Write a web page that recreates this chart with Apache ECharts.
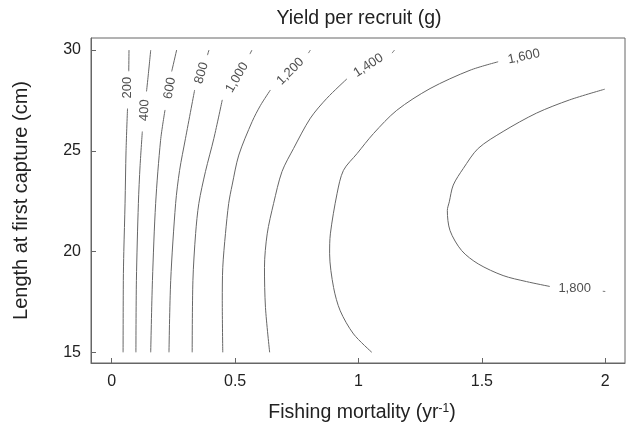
<!DOCTYPE html>
<html>
<head>
<meta charset="utf-8">
<script src="https://cdn.jsdelivr.net/npm/echarts@6/dist/echarts.min.js"></script>
<style>
  html, body { margin: 0; padding: 0; background: #fff; }
  #chart { width: 630px; height: 429px; }
</style>
</head>
<body>
<div id="chart"></div>
<script>
// isolines: [F, Lc], '-' = gap where the label sits
var c200 = [[0.070, 30], [0.069, 28.95], '-', [0.064, 27.1], [0.058, 25.0], [0.054, 22.4], [0.049, 20.0], [0.047, 18.56], [0.046, 15]];
var c400 = [[0.158, 30], [0.148, 28.76], [0.141, 27.95], '-', [0.124, 25.96], [0.115, 24.28], [0.108, 22.39], [0.100, 18.56], [0.098, 15]];
var c600 = [[0.263, 30], [0.243, 28.94], '-', [0.216, 27.03], [0.198, 25.52], [0.178, 22.39], [0.165, 18.56], [0.158, 15]];
var c800 = [[0.394, 30], [0.388, 29.75], '-', [0.336, 28.02], [0.299, 25.62], [0.275, 24.03], [0.259, 22.39], [0.239, 18.56], [0.232, 15]];
var c1000 = [[0.568, 30], [0.560, 29.80], '-', [0.448, 27.53], [0.414, 25.62], [0.380, 23.98], [0.353, 22.39], [0.340, 20.90], [0.329, 18.56], [0.326, 15]];
var c1200 = [[0.805, 30], [0.797, 29.85], '-', [0.643, 28.02], [0.603, 27.26], [0.569, 26.45], [0.515, 24.79], [0.488, 23.30], [0.474, 22.39], [0.461, 20.90], [0.450, 19.22], [0.448, 17.56], [0.450, 15]];
var c1400 = [[1.146, 30], [1.136, 29.85], '-', [0.953, 28.57], [0.872, 27.61], [0.805, 26.62], [0.737, 25.12], [0.690, 23.97], [0.656, 22.39], [0.630, 20.88], [0.619, 19.22], [0.623, 17.23], [0.640, 15]];
var c1600 = [[1.566, 29.42], [1.452, 29.00], [1.290, 28.09], [1.155, 27.01], [1.061, 25.86], [0.994, 24.86], [0.939, 24.03], [0.913, 22.87], [0.886, 20.88], [0.883, 19.89], [0.899, 18.22], [0.926, 17.06], [0.980, 15.91], [1.054, 15]];
var c1800 = [[1.998, 28.06], [1.856, 27.53], [1.721, 26.87], [1.586, 25.96], [1.485, 25.12], [1.425, 24.13], [1.384, 23.30], [1.368, 22.47], [1.360, 22.04], [1.371, 21.04], [1.418, 20.05], [1.485, 19.39], [1.586, 18.81], [1.681, 18.51], [1.775, 18.27], '-', [1.990, 18.03], [2.0, 18.02]];

var levels = ['200', '400', '600', '800', '1,000', '1,200', '1,400', '1,600', '1,800'];
var labelPos = [[0.065, 28.14], [0.133, 27.01], [0.236, 28.11], [0.364, 28.86], [0.508, 28.64], [0.724, 28.94], [1.040, 29.24], [1.670, 29.68], [1.876, 18.16]];
var labelAngle = [90, 88, 80, 74, 60, 45, 33, 12, 0];

var xTicks = [0, 0.5, 1, 1.5, 2];
var yTicks = [15, 20, 25, 30];

var font = "'Liberation Sans', Arial, sans-serif";
var lines = [c200, c400, c600, c800, c1000, c1200, c1400, c1600, c1800];

var myChart = echarts.init(document.getElementById('chart'));

var series = lines.map(function (d, i) {
  return {
    name: levels[i],
    type: 'line',
    data: d,
    smooth: 0.3,
    showSymbol: false,
    connectNulls: false,
    silent: true,
    lineStyle: { color: '#666', width: 1 }
  };
});

//contour labels
series.push({
  type: 'scatter',
  symbolSize: 0,
  silent: true,
  data: levels.map(function (t, i) {
    return {
      name: t,
      value: labelPos[i],
      label: { rotate: labelAngle[i] }
    };
  }),
  label: {
    show: true,
    position: 'inside',
    formatter: '{b}',
    fontFamily: font,
    fontSize: 13,
    color: '#222'
  }
});

var axisCommon = {
  type: 'value',
  nameLocation: 'middle',
  nameTextStyle: { fontFamily: font, fontSize: 19.5, color: '#222' },
  axisLine: { show: true, onZero: false, lineStyle: { color: '#666', width: 1 } },
  splitLine: { show: false }
};

myChart.setOption({
  animation: false,
  title: {
    text: 'Yield per recruit (g)',
    left: 354,
    top: 4,
    textAlign: 'center',
    textStyle: { fontFamily: font, fontSize: 19.5, fontWeight: 'normal', color: '#222' }
  },
  grid: {
    left: 91, right: 5, top: 38, bottom: 66,
    show: true, borderColor: '#666', borderWidth: 1
  },
  xAxis: Object.assign({}, axisCommon, {
    min: -0.084,
    max: 2.08,
    name: 'Fishing mortality (yr{sup|-1})',
    nameGap: 40,
    nameTextStyle: {
      fontFamily: font, fontSize: 19.5, color: '#222', padding: [0, 0, 0, 8],
      rich: { sup: { fontFamily: font, fontSize: 12, color: '#222', verticalAlign: 'top', padding: [0, 0, 8, 0] } }
    },
    axisTick: { inside: true, length: 5, lineStyle: { color: '#666' }, customValues: xTicks },
    axisLabel: { customValues: xTicks, fontFamily: font, fontSize: 16, color: '#222', margin: 11 }
  }),
  yAxis: Object.assign({}, axisCommon, {
    min: 14.47,
    max: 30.6,
    name: 'Length at first capture (cm)',
    nameGap: 60,
    nameTextStyle: { fontFamily: font, fontSize: 20, color: '#222' },
    axisTick: { inside: true, length: 5, lineStyle: { color: '#666' }, customValues: yTicks },
    axisLabel: { customValues: yTicks, fontFamily: font, fontSize: 16, color: '#222', margin: 10 }
  }),
  series: series
});
</script>
</body>
</html>
